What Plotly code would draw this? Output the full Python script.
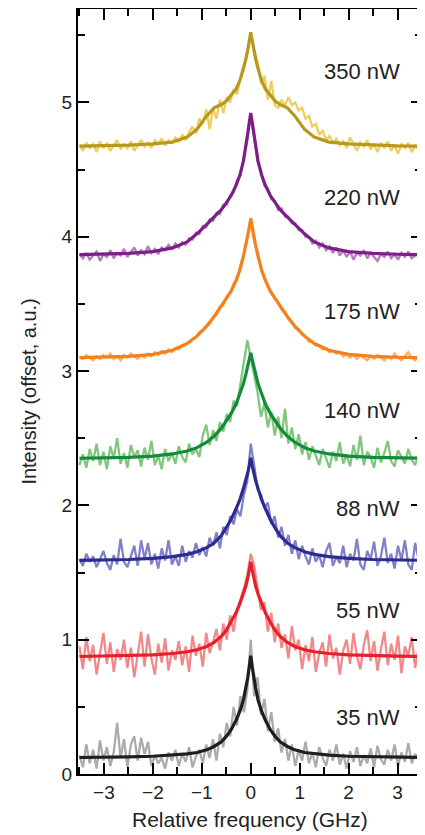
import numpy as np
import plotly.graph_objects as go

# sample grid of the measured spectra (GHz)
DATA_X = np.round(np.arange(-3.5, 3.5001, 0.07), 2)

# x positions of the fitted curves (GHz)
FIT_X = [-3.5, -3.0, -2.5, -2.0, -1.6, -1.3, -1.1, -0.9, -0.75, -0.6, -0.5, -0.4, -0.3, -0.22, -0.15, -0.1, -0.06, -0.03,
         0.0, 0.03, 0.06, 0.1, 0.15, 0.22, 0.3, 0.4, 0.5, 0.6, 0.75, 0.9, 1.1, 1.3, 1.6, 2.0, 2.5, 3.0, 3.5]

labels = ["350 nW", "220 nW", "175 nW", "140 nW", "88 nW", "55 nW", "35 nW"]
label_y = [5.23, 4.29, 3.44, 2.71, 1.98, 1.22, 0.42]

data_350 = [4.68, 4.64, 4.70, 4.66, 4.69, 4.63, 4.71, 4.66, 4.70, 4.64, 4.68, 4.72, 4.65, 4.69, 4.66, 4.71, 4.64, 4.68, 4.72, 4.67,
            4.70, 4.66, 4.72, 4.69, 4.73, 4.68, 4.72, 4.70, 4.74, 4.71, 4.76, 4.72, 4.78, 4.82, 4.77, 4.88, 4.84, 4.95, 4.80, 4.96,
            4.88, 5.02, 4.92, 5.04, 5.00, 5.10, 5.06, 5.18, 5.24, 5.38, 5.50, 5.40, 5.30, 5.14, 5.20, 5.02, 5.16, 4.98, 4.96, 5.02,
            4.98, 5.04, 4.98, 5.00, 4.94, 4.96, 4.88, 4.90, 4.82, 4.84, 4.76, 4.79, 4.72, 4.75, 4.70, 4.73, 4.68, 4.71, 4.66, 4.74,
            4.69, 4.64, 4.70, 4.67, 4.72, 4.65, 4.69, 4.63, 4.70, 4.66, 4.71, 4.64, 4.68, 4.62, 4.69, 4.66, 4.70, 4.63, 4.68, 4.65, 4.67]
data_220 = [3.87, 3.84, 3.88, 3.83, 3.86, 3.89, 3.82, 3.87, 3.85, 3.90, 3.84, 3.88, 3.86, 3.91, 3.85, 3.89, 3.92, 3.86, 3.90, 3.87,
            3.93, 3.88, 3.91, 3.87, 3.92, 3.90, 3.94, 3.91, 3.95, 3.92, 3.96, 3.94, 3.99, 3.98, 4.03, 4.02, 4.08, 4.07, 4.13, 4.12,
            4.18, 4.17, 4.24, 4.24, 4.31, 4.33, 4.42, 4.46, 4.60, 4.72, 4.92, 4.75, 4.56, 4.49, 4.38, 4.36, 4.28, 4.27, 4.20, 4.21,
            4.15, 4.15, 4.10, 4.10, 4.05, 4.05, 4.00, 4.00, 3.95, 3.97, 3.92, 3.95, 3.90, 3.93, 3.88, 3.92, 3.86, 3.90, 3.85, 3.89,
            3.83, 3.88, 3.86, 3.90, 3.84, 3.88, 3.85, 3.82, 3.87, 3.85, 3.89, 3.84, 3.87, 3.83, 3.88, 3.85, 3.89, 3.84, 3.86, 3.88, 3.85]
data_175 = [3.11, 3.09, 3.12, 3.10, 3.08, 3.11, 3.09, 3.12, 3.10, 3.13, 3.09, 3.11, 3.08, 3.12, 3.10, 3.13, 3.11, 3.09, 3.12, 3.10,
            3.13, 3.11, 3.14, 3.12, 3.15, 3.13, 3.16, 3.14, 3.17, 3.16, 3.19, 3.20, 3.21, 3.24, 3.25, 3.29, 3.30, 3.34, 3.35, 3.40,
            3.42, 3.48, 3.49, 3.56, 3.58, 3.65, 3.68, 3.79, 3.86, 4.00, 4.14, 3.97, 3.89, 3.76, 3.70, 3.63, 3.59, 3.54, 3.51, 3.46,
            3.44, 3.39, 3.37, 3.32, 3.31, 3.27, 3.26, 3.22, 3.22, 3.19, 3.19, 3.16, 3.17, 3.14, 3.15, 3.13, 3.14, 3.11, 3.13, 3.10,
            3.12, 3.09, 3.12, 3.10, 3.08, 3.11, 3.09, 3.12, 3.10, 3.08, 3.11, 3.09, 3.13, 3.10, 3.08, 3.11, 3.14, 3.10, 3.08, 3.11, 3.09]
data_140 = [2.30, 2.38, 2.28, 2.42, 2.33, 2.46, 2.30, 2.40, 2.27, 2.44, 2.35, 2.50, 2.31, 2.39, 2.28, 2.45, 2.36, 2.41, 2.29, 2.43,
            2.34, 2.48, 2.30, 2.37, 2.27, 2.42, 2.33, 2.39, 2.31, 2.44, 2.36, 2.32, 2.46, 2.38, 2.42, 2.36, 2.52, 2.60, 2.45, 2.56,
            2.48, 2.62, 2.55, 2.68, 2.62, 2.78, 2.74, 2.90, 3.05, 3.23, 3.10, 2.96, 2.84, 2.66, 2.76, 2.58, 2.70, 2.52, 2.66, 2.50,
            2.72, 2.46, 2.58, 2.42, 2.53, 2.38, 2.47, 2.34, 2.44, 2.37, 2.30, 2.42, 2.35, 2.28, 2.40, 2.33, 2.47, 2.31, 2.38, 2.29,
            2.45, 2.34, 2.52, 2.30, 2.40, 2.36, 2.28, 2.43, 2.32, 2.39, 2.48, 2.33, 2.29, 2.41, 2.36, 2.31, 2.42, 2.34, 2.30, 2.38, 2.33]
data_88 = [1.60, 1.55, 1.64, 1.58, 1.62, 1.54, 1.60, 1.66, 1.57, 1.52, 1.63, 1.56, 1.75, 1.58, 1.54, 1.62, 1.70, 1.55, 1.74, 1.60,
           1.72, 1.56, 1.64, 1.53, 1.68, 1.59, 1.74, 1.56, 1.62, 1.55, 1.70, 1.58, 1.66, 1.61, 1.72, 1.63, 1.69, 1.62, 1.76, 1.70,
           1.80, 1.68, 1.84, 1.78, 1.92, 1.86, 1.97, 1.92, 2.08, 2.18, 2.46, 2.30, 2.12, 2.08, 1.98, 2.02, 1.86, 1.92, 1.76, 1.84,
           1.70, 1.78, 1.64, 1.74, 1.60, 1.70, 1.62, 1.56, 1.68, 1.58, 1.63, 1.54, 1.66, 1.72, 1.55, 1.62, 1.57, 1.70, 1.54, 1.64,
           1.59, 1.75, 1.56, 1.52, 1.66, 1.60, 1.73, 1.55, 1.62, 1.76, 1.57, 1.64, 1.53, 1.70, 1.59, 1.74, 1.56, 1.52, 1.72, 1.60, 1.56]
data_55 = [0.95, 0.78, 1.02, 0.84, 0.96, 0.74, 0.90, 1.05, 0.82, 0.98, 0.76, 0.93, 0.85, 1.00, 0.79, 0.94, 0.72, 0.88, 1.06, 0.80,
           1.04, 0.86, 0.74, 0.97, 0.83, 1.01, 0.77, 0.92, 0.85, 0.99, 0.81, 0.95, 0.76, 1.03, 0.88, 0.97, 0.80, 1.05, 0.90, 0.98,
           1.08, 0.92, 1.12, 1.00, 1.18, 1.06, 1.22, 1.30, 1.38, 1.48, 1.64, 1.55, 1.40, 1.22, 1.28, 1.06, 1.20, 0.98, 1.12, 0.94,
           1.04, 0.86, 1.10, 0.92, 1.00, 0.78, 0.96, 0.84, 1.02, 0.76, 0.90, 0.98, 0.80, 1.04, 0.86, 0.94, 0.74, 0.92, 1.00, 0.82,
           1.05, 0.88, 0.78, 0.96, 1.07, 0.84, 0.99, 0.77, 0.93, 1.06, 0.81, 0.97, 0.85, 1.03, 0.75, 0.95, 0.88, 1.02, 0.79, 0.94, 0.86]
data_35 = [0.14, 0.05, 0.22, 0.08, 0.18, 0.04, 0.25, 0.10, 0.20, 0.06, 0.16, 0.38, 0.12, 0.26, 0.05, 0.22, 0.28, 0.10, 0.27, 0.15,
           0.24, 0.06, 0.14, 0.08, 0.12, 0.04, 0.16, 0.10, 0.18, 0.06, 0.15, 0.09, 0.20, 0.05, 0.13, 0.18, 0.08, 0.22, 0.12, 0.26,
           0.10, 0.30, 0.20, 0.38, 0.28, 0.50, 0.36, 0.58, 0.46, 0.62, 1.00, 0.58, 0.72, 0.44, 0.56, 0.32, 0.46, 0.24, 0.34, 0.16,
           0.26, 0.10, 0.22, 0.06, 0.18, 0.10, 0.24, 0.08, 0.16, 0.05, 0.20, 0.12, 0.06, 0.18, 0.10, 0.22, 0.07, 0.15, 0.04, 0.17,
           0.09, 0.20, 0.06, 0.14, 0.08, 0.19, 0.05, 0.21, 0.11, 0.07, 0.18, 0.10, 0.22, 0.06, 0.16, 0.09, 0.23, 0.08, 0.15, 0.11, 0.20]

fit_350 = [4.675, 4.677, 4.682, 4.692, 4.705, 4.742, 4.800, 4.900, 4.960, 4.985, 5.010, 5.055, 5.100, 5.165, 5.252, 5.322, 5.392, 5.462,
           5.522, 5.462, 5.392, 5.322, 5.252, 5.165, 5.100, 5.055, 5.010, 4.985, 4.960, 4.900, 4.800, 4.742, 4.705, 4.692, 4.682, 4.677, 4.675]
fit_220 = [3.867, 3.870, 3.876, 3.890, 3.917, 3.962, 4.022, 4.092, 4.147, 4.202, 4.252, 4.307, 4.382, 4.462, 4.562, 4.662, 4.772, 4.852,
           4.922, 4.852, 4.772, 4.662, 4.562, 4.462, 4.382, 4.307, 4.252, 4.202, 4.147, 4.092, 4.022, 3.962, 3.917, 3.890, 3.876, 3.870, 3.867]
fit_175 = [3.100, 3.103, 3.110, 3.125, 3.155, 3.205, 3.260, 3.335, 3.405, 3.485, 3.540, 3.595, 3.675, 3.755, 3.855, 3.935, 4.005, 4.065,
           4.135, 4.065, 4.005, 3.935, 3.855, 3.755, 3.675, 3.595, 3.540, 3.485, 3.405, 3.335, 3.260, 3.205, 3.155, 3.125, 3.110, 3.103, 3.100]
fit_140 = [2.351, 2.354, 2.358, 2.367, 2.383, 2.405, 2.430, 2.470, 2.515, 2.575, 2.625, 2.685, 2.755, 2.835, 2.905, 2.975, 3.035, 3.085,
           3.135, 3.085, 3.035, 2.975, 2.905, 2.835, 2.755, 2.685, 2.625, 2.575, 2.515, 2.470, 2.430, 2.405, 2.383, 2.367, 2.358, 2.354, 2.351]
fit_88 = [1.591, 1.593, 1.597, 1.605, 1.618, 1.635, 1.655, 1.685, 1.720, 1.775, 1.830, 1.895, 1.975, 2.045, 2.125, 2.185, 2.245, 2.295,
          2.355, 2.295, 2.245, 2.185, 2.125, 2.045, 1.975, 1.895, 1.830, 1.775, 1.720, 1.685, 1.655, 1.635, 1.618, 1.605, 1.597, 1.593, 1.591]
fit_55 = [0.875, 0.877, 0.880, 0.887, 0.897, 0.910, 0.925, 0.950, 0.980, 1.025, 1.070, 1.130, 1.200, 1.270, 1.340, 1.400, 1.460, 1.520,
          1.580, 1.520, 1.460, 1.400, 1.340, 1.270, 1.200, 1.130, 1.070, 1.025, 0.980, 0.950, 0.925, 0.910, 0.897, 0.887, 0.880, 0.877, 0.875]
fit_35 = [0.123, 0.124, 0.127, 0.132, 0.140, 0.150, 0.160, 0.180, 0.205, 0.240, 0.280, 0.330, 0.400, 0.470, 0.550, 0.640, 0.720, 0.800,
          0.880, 0.800, 0.720, 0.640, 0.550, 0.470, 0.400, 0.330, 0.280, 0.240, 0.205, 0.180, 0.160, 0.150, 0.140, 0.132, 0.127, 0.124, 0.123]

series_data = [data_350, data_220, data_175, data_140, data_88, data_55, data_35]
series_fit = [fit_350, fit_220, fit_175, fit_140, fit_88, fit_55, fit_35]
data_colors = ["#EDCF5C", "#B77BC0", "#FBB062", "#80C77D", "#8181C9", "#F3888A", "#ABABAB"]
fit_colors = ["#B9981F", "#7D1F87", "#F4801E", "#148A3B", "#2C2C90", "#E5202A", "#1E1E1E"]

fig = go.Figure()
for d, f, dc, fc in zip(series_data, series_fit, data_colors, fit_colors):
    fig.add_trace(go.Scatter(x=DATA_X, y=d, mode="lines", line=dict(color=dc, width=2.3), hoverinfo="skip"))
    fig.add_trace(go.Scatter(x=FIT_X, y=f, mode="lines", line=dict(color=fc, width=3.2), hoverinfo="skip"))

for t, y in zip(labels, label_y):
    fig.add_annotation(x=3.1, y=y, text=t, showarrow=False, xanchor="right", yanchor="middle",
                       font=dict(size=22, color="#222222"))

# axis titles
fig.add_annotation(xref="paper", yref="paper", x=0.5, y=-0.06, text="Relative frequency (GHz)",
                   showarrow=False, xanchor="center", yanchor="middle", font=dict(size=21, color="#222222"))
fig.add_annotation(xref="paper", yref="paper", x=-0.145, y=0.5, text="Intensity (offset, a.u.)", textangle=-90,
                   showarrow=False, xanchor="center", yanchor="middle", font=dict(size=20, color="#222222"))

font = "Liberation Sans, Arial, sans-serif"
axis_common = dict(showline=True, linecolor="black", linewidth=2, mirror="ticks", ticks="inside",
                   tickcolor="black", tickwidth=2, ticklen=11, showgrid=False, zeroline=False, automargin=False,
                   tickfont=dict(size=19, color="#222222"))
fig.update_xaxes(range=[-3.53, 3.5], dtick=1, tick0=0,
                 minor=dict(dtick=0.5, ticks="inside", ticklen=7, tickcolor="black", tickwidth=2, showgrid=False),
                 **axis_common)
fig.update_yaxes(range=[0, 5.696], dtick=1, tick0=0,
                 minor=dict(dtick=0.5, ticks="inside", ticklen=7, tickcolor="black", tickwidth=2, showgrid=False),
                 **axis_common)
# page has an 8px body margin: figure is sized/placed so the plot frame lands where the reference has it
fig.update_layout(width=417, height=827, margin=dict(l=70, r=3, t=1, b=61, autoexpand=False),
                  plot_bgcolor="white", paper_bgcolor="white", showlegend=False,
                  font=dict(family=font, color="#222222"))
fig.write_html("out.html")
